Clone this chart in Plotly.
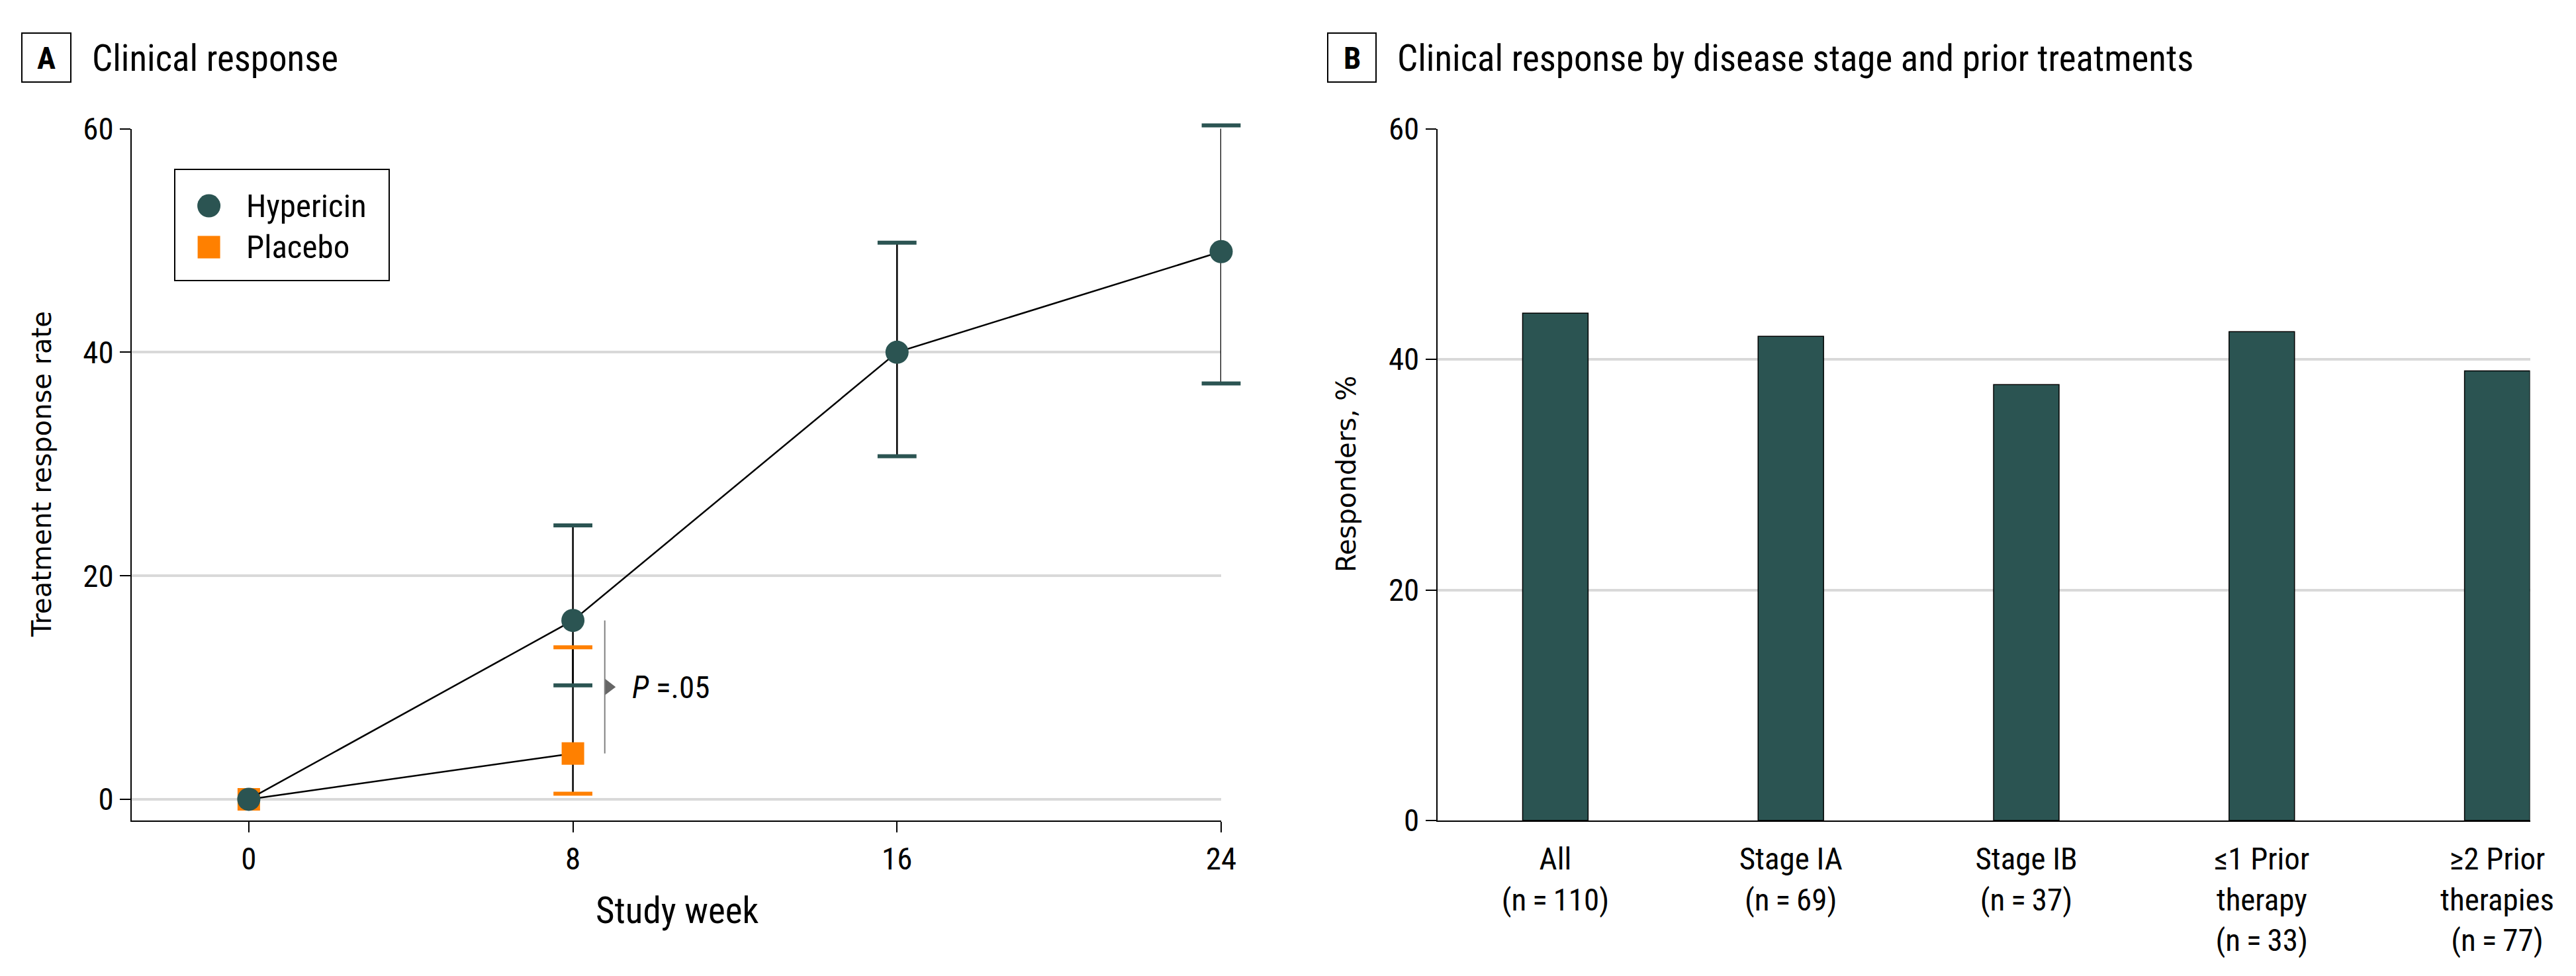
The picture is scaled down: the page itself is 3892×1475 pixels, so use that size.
import plotly.graph_objects as go

# ---------------- data ----------------
weeks = [0, 8, 16, 24]
hyp_rate = [0, 16, 40, 49]
hyp_lo = [0, 10.2, 30.7, 37.2]
hyp_hi = [0, 24.5, 49.8, 60.3]

plc_weeks = [0, 8]
plc_rate = [0, 4.1]
plc_lo = [0, 0.5]
plc_hi = [0, 13.6]

week_ticks = [0, 8, 16, 24]
rate_ticks = [0, 20, 40, 60]

groups = ["All", "Stage IA", "Stage IB", "≤1 Prior therapy", "≥2 Prior therapies"]
group_labels = ["All<br>(n\u2009=\u2009110)", "Stage IA<br>(n\u2009=\u200969)", "Stage IB<br>(n\u2009=\u200937)",
                "≤1 Prior<br>therapy<br>(n\u2009=\u200933)", "≥2 Prior<br>therapies<br>(n\u2009=\u200977)"]
responders = [44.0, 42.0, 37.8, 42.4, 39.0]
resp_ticks = [0, 20, 40, 60]

p_text = "<i>P</i> =.05"

# ---------------- style ----------------
W, H = 3892, 1475
TEAL = "#2B5452"
ORANGE = "#FF8000"
GRID = "#D9D9D9"
FONT = "Roboto Condensed, Roboto, sans-serif"
WIDE = "DejaVu Sans, Verdana, sans-serif"
TICK = 47

A_TOP, A_BOT = 194.5, 1240.0
Y_MIN, Y_MAX = -1.9, 60.0
PX_PER_UNIT = (A_BOT - A_TOP) / (Y_MAX - Y_MIN)
EXTRA = 2.0  # headroom for caps above the top of the axis


def px(x):
    return x / W


def py(y):
    return 1 - y / H


fig = go.Figure()


def caps(xs, lo, hi, mid):
    cx, cy = [], []
    for x, l, h, m in zip(xs, lo, hi, mid):
        if h > m:
            cx.append(x); cy.append(h)
        if l < m:
            cx.append(x); cy.append(l)
    return cx, cy


# Placebo
fig.add_trace(go.Scatter(
    x=plc_weeks, y=plc_rate, mode="lines+markers", name="Placebo", showlegend=False,
    line=dict(color="black", width=2.5),
    marker=dict(symbol="square", size=34, color=ORANGE),
    error_y=dict(type="data", symmetric=False,
                 array=[h - r for h, r in zip(plc_hi, plc_rate)],
                 arrayminus=[r - l for l, r in zip(plc_lo, plc_rate)],
                 color="black", thickness=2.5, width=0),
    cliponaxis=False, xaxis="x", yaxis="y"))
cx, cy = caps(plc_weeks, plc_lo, plc_hi, plc_rate)
fig.add_trace(go.Scatter(x=cx, y=cy, mode="markers", showlegend=False,
                         marker=dict(symbol="line-ew", size=42, line=dict(width=6, color=ORANGE)),
                         cliponaxis=False, xaxis="x", yaxis="y3"))

# Hypericin
fig.add_trace(go.Scatter(
    x=weeks, y=hyp_rate, mode="lines+markers", name="Hypericin", showlegend=False,
    line=dict(color="black", width=2.5),
    marker=dict(symbol="circle", size=35, color=TEAL),
    error_y=dict(type="data", symmetric=False,
                 array=[h - r for h, r in zip(hyp_hi, hyp_rate)],
                 arrayminus=[r - l for l, r in zip(hyp_lo, hyp_rate)],
                 color="black", thickness=2.5, width=0),
    cliponaxis=False, xaxis="x", yaxis="y"))
cx, cy = caps(weeks, hyp_lo, hyp_hi, hyp_rate)
fig.add_trace(go.Scatter(x=cx, y=cy, mode="markers", showlegend=False,
                         marker=dict(symbol="line-ew", size=42, line=dict(width=6, color=TEAL)),
                         cliponaxis=False, xaxis="x", yaxis="y3"))

# P-value bracket
bx = 8.786
mid = (hyp_rate[1] + plc_rate[1]) / 2
fig.add_shape(type="line", xref="x", yref="y", x0=bx, x1=bx, y0=hyp_rate[1], y1=plc_rate[1],
              line=dict(color="#808080", width=2))
fig.add_trace(go.Scatter(x=[bx + 0.09], y=[mid], mode="markers", showlegend=False,
                         marker=dict(symbol="triangle-right", size=22, color="#666666"),
                         cliponaxis=False, xaxis="x", yaxis="y"))
fig.add_annotation(x=9.42, y=mid, xref="x", yref="y", text=p_text, showarrow=False,
                   xanchor="left", yanchor="middle", font=dict(family=FONT, size=TICK, color="black"))

# Legend (manual) in panel A
leg_x = -0.985
fig.add_shape(type="rect", xref="paper", yref="paper", x0=px(264), x1=px(588), y0=py(424), y1=py(256),
              line=dict(color="black", width=2), fillcolor="white", layer="below")
fig.add_trace(go.Scatter(x=[leg_x], y=[53.1], mode="markers", showlegend=False,
                         marker=dict(symbol="circle", size=35, color=TEAL), cliponaxis=False,
                         xaxis="x", yaxis="y"))
fig.add_trace(go.Scatter(x=[leg_x], y=[49.4], mode="markers", showlegend=False,
                         marker=dict(symbol="square", size=34, color=ORANGE), cliponaxis=False,
                         xaxis="x", yaxis="y"))
for label, yy in (("Hypericin", 311), ("Placebo", 373)):
    fig.add_annotation(x=px(370), y=py(yy), xref="paper", yref="paper", text=label, showarrow=False,
                       xanchor="left", yanchor="middle", font=dict(family=FONT, size=49, color="black"))

# Panel B bars
fig.add_trace(go.Bar(x=list(range(len(groups))), y=responders, width=0.278, name="Responders",
                     marker=dict(color=TEAL, line=dict(color="black", width=1.5)),
                     showlegend=False, hovertext=groups, xaxis="x2", yaxis="y2"))

# Panel titles
for x0, x1, letter, tx, title in ((33, 107, "A", 137, "Clinical response"),
                                  (2006, 2079, "B", 2109, "Clinical response by disease stage and prior treatments")):
    fig.add_shape(type="rect", xref="paper", yref="paper", x0=px(x0), x1=px(x1), y0=py(124), y1=py(50),
                  line=dict(color="black", width=2))
    fig.add_annotation(x=px((x0 + x1) / 2), y=py(88), xref="paper", yref="paper", text="<b>%s</b>" % letter,
                       showarrow=False, xanchor="center", yanchor="middle",
                       font=dict(family=FONT, size=47, color="black"))
    fig.add_annotation(x=px(tx), y=py(88), xref="paper", yref="paper", text=title, showarrow=False,
                       xanchor="left", yanchor="middle", font=dict(family=FONT, size=55, color="black"))

# Axis titles
fig.add_annotation(x=px(63), y=py(717), xref="paper", yref="paper", text="Treatment response rate",
                   textangle=-90, showarrow=False, xanchor="center", yanchor="middle",
                   font=dict(family=WIDE, size=40, color="black"))
fig.add_annotation(x=px(2034), y=py(717), xref="paper", yref="paper", text="Responders, %",
                   textangle=-90, showarrow=False, xanchor="center", yanchor="middle",
                   font=dict(family=WIDE, size=40, color="black"))
fig.add_annotation(x=px(1023), y=py(1376), xref="paper", yref="paper", text="Study week",
                   showarrow=False, xanchor="center", yanchor="middle",
                   font=dict(family=FONT, size=55, color="black"))

axis_common = dict(showline=True, linecolor="black", linewidth=2, ticks="outside", ticklen=16,
                   tickwidth=2, tickcolor="black", zeroline=False, automargin=False,
                   tickfont=dict(family=FONT, size=TICK, color="black"))

y_dom = [py(A_BOT), py(A_TOP)]
fig.update_layout(
    width=W, height=H, autosize=False,
    margin=dict(l=0, r=0, t=0, b=0, pad=0, autoexpand=False),
    paper_bgcolor="white", plot_bgcolor="rgba(0,0,0,0)", showlegend=False,
    xaxis=dict(domain=[px(199), px(1845)], range=[-2.89, 24], tickvals=week_ticks,
               showgrid=False, anchor="y", **axis_common),
    yaxis=dict(domain=y_dom, range=[Y_MIN, Y_MAX], tickvals=rate_ticks, showgrid=True,
               gridcolor=GRID, gridwidth=4, anchor="x", **axis_common),
    yaxis3=dict(domain=[py(A_BOT), py(A_TOP - EXTRA * PX_PER_UNIT)], range=[Y_MIN, Y_MAX + EXTRA],
                anchor="x", visible=False, showgrid=False, zeroline=False, automargin=False),
    xaxis2=dict(domain=[px(2171.7), px(3822.5)], range=[-0.501, 4.139],
                tickvals=list(range(len(groups))), ticktext=group_labels,
                showgrid=False, anchor="y2",
                **{**axis_common, "tickcolor": "rgba(0,0,0,0)"}),
    yaxis2=dict(domain=y_dom, range=[0, 60], tickvals=resp_ticks, showgrid=True,
                gridcolor=GRID, gridwidth=4, anchor="x2", **axis_common),
)

fig.write_html("out.html", config=dict(displayModeBar=False),
               post_script="document.body.style.margin='0';document.body.style.overflow='hidden';"
                           "document.documentElement.style.overflow='hidden';")
